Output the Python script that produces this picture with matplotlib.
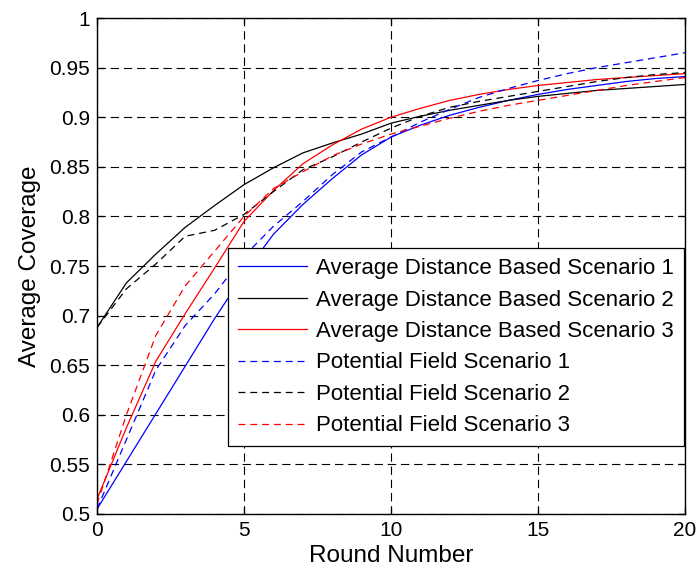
import matplotlib
matplotlib.use("Agg")
import matplotlib.pyplot as plt
import numpy as np

rounds = list(range(21))

adb_s1 = [0.505, 0.553, 0.601, 0.649, 0.697, 0.742, 0.782, 0.812, 0.838, 0.862, 0.880,
          0.892, 0.902, 0.910, 0.917, 0.923, 0.928, 0.932, 0.936, 0.939, 0.941]
adb_s2 = [0.688, 0.733, 0.762, 0.789, 0.811, 0.832, 0.849, 0.864, 0.874, 0.883, 0.894,
          0.901, 0.907, 0.912, 0.917, 0.921, 0.924, 0.927, 0.929, 0.931, 0.933]
adb_s3 = [0.515, 0.587, 0.654, 0.702, 0.748, 0.795, 0.826, 0.853, 0.872, 0.888, 0.900,
          0.909, 0.917, 0.923, 0.928, 0.932, 0.935, 0.938, 0.940, 0.942, 0.944]
pf_s1 = [0.505, 0.575, 0.645, 0.690, 0.722, 0.760, 0.790, 0.815, 0.842, 0.865, 0.880,
         0.895, 0.908, 0.920, 0.929, 0.937, 0.944, 0.950, 0.955, 0.960, 0.965]
pf_s2 = [0.688, 0.727, 0.752, 0.780, 0.786, 0.802, 0.825, 0.847, 0.860, 0.875, 0.889,
         0.901, 0.910, 0.916, 0.921, 0.926, 0.931, 0.936, 0.940, 0.943, 0.945]
pf_s3 = [0.510, 0.600, 0.680, 0.730, 0.765, 0.800, 0.828, 0.845, 0.861, 0.873, 0.883,
         0.891, 0.899, 0.906, 0.912, 0.917, 0.922, 0.927, 0.932, 0.936, 0.940]

labels = ["Average Distance Based Scenario 1", "Average Distance Based Scenario 2",
          "Average Distance Based Scenario 3", "Potential Field Scenario 1",
          "Potential Field Scenario 2", "Potential Field Scenario 3"]
x_ticks = [0, 5, 10, 15, 20]
y_ticks = [0.5, 0.55, 0.6, 0.65, 0.7, 0.75, 0.8, 0.85, 0.9, 0.95, 1.0]
y_tick_labels = ["0.5", "0.55", "0.6", "0.65", "0.7", "0.75", "0.8", "0.85", "0.9", "0.95", "1"]

plt.rcParams['font.family'] = ['Liberation Sans', 'DejaVu Sans']
plt.rcParams['lines.scale_dashes'] = False

fig = plt.figure(figsize=(6.99, 5.72), dpi=100)
ax = fig.add_axes([0.1388, 0.1014, 0.8412, 0.8671])

lw = 0.9
dash = (5, 3.5)
ax.plot(rounds, adb_s1, color='#0000ff', lw=lw, label=labels[0])
ax.plot(rounds, adb_s2, color='black', lw=lw, label=labels[1])
ax.plot(rounds, adb_s3, color='#ff0000', lw=lw, label=labels[2])
ax.plot(rounds, pf_s1, color='#0000ff', lw=lw, ls=(0, dash), label=labels[3])
ax.plot(rounds, pf_s2, color='black', lw=lw, ls=(0, dash), label=labels[4])
ax.plot(rounds, pf_s3, color='#ff0000', lw=lw, ls=(0, dash), label=labels[5])

ax.set_xlim(0, 20)
ax.set_ylim(0.5, 1.0)
ax.set_xticks(x_ticks)
ax.set_yticks(y_ticks)
ax.set_yticklabels(y_tick_labels)
ax.grid(True, color='black', lw=0.8, ls=(0, (6, 3.5)))
ax.set_axisbelow(True)
ax.tick_params(direction='in', length=5, width=0.9, top=True, right=True,
               labelsize=15, pad=5)
for s in ax.spines.values():
    s.set_linewidth(1.0)

ax.set_xlabel("Round Number", fontsize=17.5, labelpad=4)
ax.set_ylabel("Average Coverage", fontsize=17.5, labelpad=6)

leg = ax.legend(loc='upper left', bbox_to_anchor=(0.2228, 0.536), borderaxespad=0,
                fontsize=16, handlelength=3.1, handletextpad=0.4, labelspacing=0.47,
                borderpad=0.45, fancybox=False, framealpha=1, edgecolor='black')
leg.get_frame().set_linewidth(0.9)

fig.savefig("out.png", dpi=100)
